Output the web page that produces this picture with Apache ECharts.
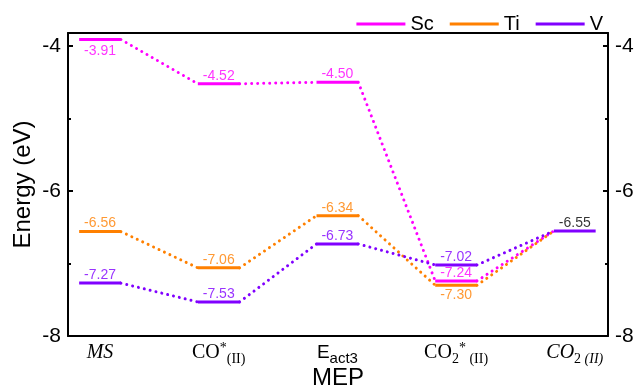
<!DOCTYPE html>
<html>
<head>
<meta charset="utf-8">
<script src="https://cdn.jsdelivr.net/npm/echarts@6/dist/echarts.min.js"></script>
<style>html,body{margin:0;padding:0;background:#fff}#c{width:638px;height:389px}</style>
</head>
<body>
<div id="c"></div>
<script>
// ---- data ----
const categories = ['MS', 'CO*(II)', 'Eact3', 'CO2*(II)', 'CO2(II)'];
const seriesNames = ['Sc', 'Ti', 'V'];
const scValues = [-3.91, -4.52, -4.50, -7.24, -6.55];
const tiValues = [-6.56, -7.06, -6.34, -7.30, -6.55];
const vValues  = [-7.27, -7.53, -6.73, -7.02, -6.55];
const yTicks = [-8, -6, -4];

// ---- style ----
const colors = ['#FF00FF', '#FF8000', '#8000FF'];
const H = 0.176; // half width of a level, in category units
const allValues = [scValues, tiValues, vValues];
// label placement: which labels go below the level
const below = {'0-0': true, '1-3': true};

const SANS = '"Liberation Sans", Arial, sans-serif';
const SERIF = '"Liberation Serif", "DejaVu Serif", serif';

function levelData(vals, skipLast) {
  const d = [];
  vals.forEach((v, i) => {
    if (skipLast && i === vals.length - 1) return;
    d.push([i - H, v], [i + H, v], [i + 0.5, '-']);
  });
  return d;
}
function connData(vals) {
  const d = [];
  for (let i = 0; i < vals.length - 1; i++) {
    d.push([i + H, vals[i]], [i + 1 - H, vals[i + 1]], [i + 0.5, '-']);
  }
  return d;
}

const series = [];
allValues.forEach((vals, k) => {
  series.push({
    type: 'line', name: seriesNames[k] + '_c', data: connData(vals),
    showSymbol: false, symbol: 'none', silent: true, z: 2,
    lineStyle: {color: colors[k], width: 3, type: [0.01, 6], cap: 'round'}
  });
});
allValues.forEach((vals, k) => {
  series.push({
    type: 'line', name: seriesNames[k], data: levelData(vals, k !== 2),
    showSymbol: false, symbol: 'none', z: 3,
    itemStyle: {color: colors[k]},
    lineStyle: {color: colors[k], width: 3, type: 'solid', cap: 'butt'}
  });
});
allValues.forEach((vals, k) => {
  const d = [];
  vals.forEach((v, i) => {
    if (i === vals.length - 1 && k !== 2) return;
    const isBelow = below[k + '-' + i];
    const last = i === vals.length - 1;
    d.push({
      value: [i, v],
      label: {
        position: isBelow ? 'bottom' : 'top',
        distance: isBelow ? (k === 0 ? 5 : 3) : 1,
        color: last ? '#000' : colors[k]
      }
    });
  });
  series.push({
    type: 'scatter', name: seriesNames[k] + '_l', data: d, symbolSize: 0, z: 4, silent: true,
    label: {show: true, fontFamily: SANS, fontSize: 14,
      formatter: p => p.value[1].toFixed(2)}
  });
});

const rich = {
  m: {fontFamily: SERIF, fontSize: 20, lineHeight: 26, color: '#000'},
  mi: {fontFamily: SERIF, fontStyle: 'italic', fontSize: 20, lineHeight: 26, color: '#000'},
  sub: {fontFamily: SERIF, fontSize: 14, lineHeight: 14, padding: [12, 0, 0, 0], color: '#000'},
  subi: {fontFamily: SERIF, fontStyle: 'italic', fontSize: 14, lineHeight: 14, padding: [12, 0, 0, 0], color: '#000'},
  sup: {fontFamily: SERIF, fontSize: 14, lineHeight: 14, padding: [0, 0, 10, 0], color: '#000'},
  s: {fontFamily: SANS, fontSize: 19, lineHeight: 26, color: '#000'},
  ssub: {fontFamily: SANS, fontSize: 15, lineHeight: 15, padding: [11, 0, 0, 0], color: '#000'}
};
const labelFmt = [
  '{mi|MS}',
  '{m|CO}{sup|*}{sub|(II)}',
  '{s|E}{ssub|act3}',
  '{m|CO}{sub|2}{sup|*}{sub| (II)}',
  '{mi|CO}{sub|2 }{subi|(II)}'
];

const option = {
  animation: false,
  backgroundColor: '#fff',
  grid: {left: 68, right: 30, top: 33, bottom: 53, containLabel: false, outerBoundsMode: 'none'},
  legend: {
    data: seriesNames, right: 30, top: 9, itemWidth: 49, itemHeight: 3, itemGap: 16,
    icon: 'rect', textStyle: {fontFamily: SANS, fontSize: 20, color: '#000'},
    selectedMode: false
  },
  xAxis: [{
    type: 'value', min: -0.27, max: 4.28, position: 'bottom',
    axisLine: {show: true, onZero: false, lineStyle: {color: '#000', width: 2}},
    axisTick: {show: false}, splitLine: {show: false},
    axisLabel: {show: true, customValues: categories.map((c, i) => i), margin: 4,
      formatter: v => labelFmt[Math.round(v)] || '', rich: rich},
    name: 'MEP', nameLocation: 'middle', nameGap: 30, nameMoveOverlap: false,
    nameTextStyle: {fontFamily: SANS, fontSize: 24, color: '#000'}
  }, {
    type: 'value', min: -0.27, max: 4.28, position: 'top',
    axisLine: {show: true, onZero: false, lineStyle: {color: '#000', width: 2}},
    axisTick: {show: false}, axisLabel: {show: false}, splitLine: {show: false}
  }],
  yAxis: [{
    type: 'value', min: -8, max: -3.82, interval: 2, position: 'left',
    axisLine: {show: true, onZero: false, lineStyle: {color: '#000', width: 2}},
    axisTick: {show: true, inside: true, length: 5, lineStyle: {color: '#000', width: 2}},
    minorTick: {show: true, splitNumber: 2, length: 3, lineStyle: {color: '#000', width: 2}},
    splitLine: {show: false},
    axisLabel: {margin: 7, fontFamily: SANS, fontSize: 21, color: '#000',
      customValues: yTicks, formatter: v => String(Math.round(v))},
    name: 'Energy (eV)', nameLocation: 'middle', nameGap: 33, nameMoveOverlap: false,
    nameTextStyle: {fontFamily: SANS, fontSize: 24, color: '#000'}
  }, {
    type: 'value', min: -8, max: -3.82, interval: 2, position: 'right',
    axisLine: {show: true, onZero: false, lineStyle: {color: '#000', width: 2}},
    axisTick: {show: true, inside: true, length: 5, lineStyle: {color: '#000', width: 2}},
    minorTick: {show: true, splitNumber: 2, length: 3, lineStyle: {color: '#000', width: 2}},
    splitLine: {show: false},
    axisLabel: {margin: 7, fontFamily: SANS, fontSize: 21, color: '#000',
      customValues: yTicks, formatter: v => String(Math.round(v))}
  }],
  series: series
};
const chart = echarts.init(document.getElementById('c'), null, {renderer: 'canvas'});
chart.setOption(option);
</script>
</body>
</html>
